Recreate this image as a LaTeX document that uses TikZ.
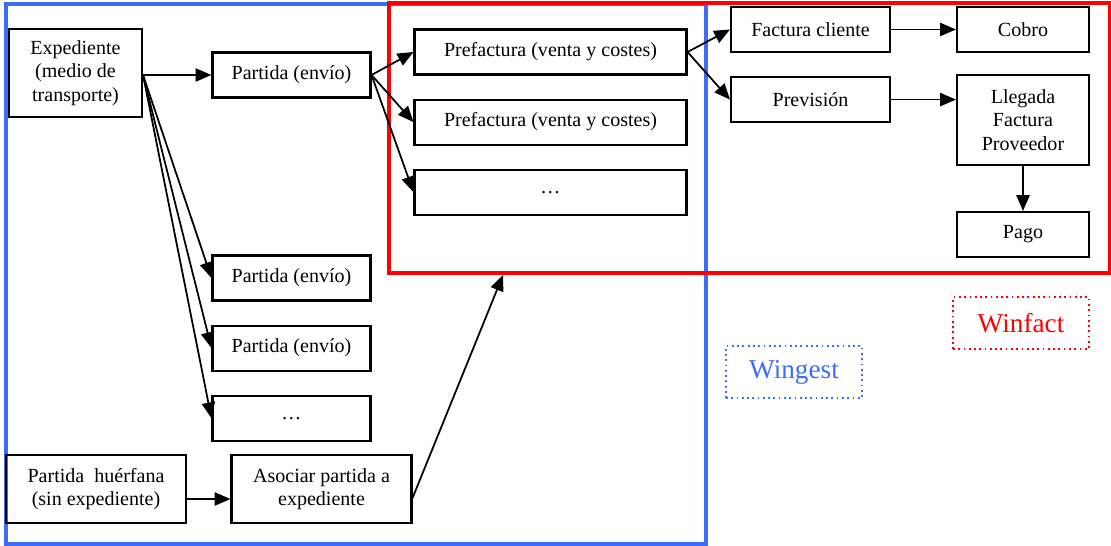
\documentclass[tikz,border=0pt]{standalone}
\usepackage{fontspec}
\setmainfont{Liberation Serif}
\usetikzlibrary{positioning,arrows.meta}
\definecolor{wgblue}{RGB}{60,108,248}
\definecolor{wfred}{RGB}{255,0,0}

\begin{document}
\begin{tikzpicture}[x=0.02cm,y=-0.02cm,node distance=0.46cm,
  >={Triangle[length=9pt,width=7.5pt]},font=\fontsize{11.4pt}{13.25pt}\selectfont]
  \tikzstyle{box}=[draw,line width=1.2pt,align=center,inner sep=2pt]
  \tikzstyle{partida}=[box,minimum width=3.16cm,minimum height=0.9cm]
  \tikzstyle{prefactura}=[box,minimum width=5.44cm,minimum height=0.9cm]
  \tikzstyle{cliente}=[box,minimum width=3.18cm,minimum height=0.9cm]
  \tikzstyle{cobro}=[box,minimum width=2.64cm,minimum height=0.9cm]
  \tikzstyle{orphan}=[box,minimum width=3.6cm,minimum height=1.36cm]
  \tikzstyle{legend}=[draw,dotted,line width=1pt,minimum width=2.72cm,minimum height=1.04cm,
    font=\fontsize{15.5pt}{18pt}\selectfont]
  \useasboundingbox (0,0) rectangle (1111,546);

  % frames
  \draw[wgblue,line width=1.8pt] (6,4) rectangle (706,544);
  \draw[wfred,line width=1.8pt] (389,3) rectangle (1110,273);

  \node[box,minimum width=2.66cm,minimum height=1.76cm] (exp) at (75.5,73)
    {Expediente\\(medio de\\transporte)};
  \node[partida] (par1) at (291.5,75)   {Partida (envío)};
  \node[partida] (par2) at (291.5,278)  {Partida (envío)};
  \node[partida] (par3) [below=of par2] {Partida (envío)};
  \node[partida] (par4) [below=of par3] {\dots};

  \node[prefactura] (pre1) at (550.5,52)  {Prefactura (venta y costes)};
  \node[prefactura] (pre2) [below=of pre1] {Prefactura (venta y costes)};
  \node[prefactura] (pre3) [below=of pre2] {\dots};

  \node[cliente] (fac)  at (810.5,29.5)   {Factura cliente};
  \node[cliente] (prev) [below=of fac]    {Previsión};
  \node[cobro]   (cob)  at (1023,29.5)    {Cobro};
  \node[cobro,minimum height=1.8cm] (lleg) at (1023,120) {Llegada\\Factura\\Proveedor};
  \node[cobro]   (pago) [below=0.9cm of lleg] {Pago};

  \node[orphan] (huer) at (96,489)    {Partida~ huérfana\\(sin expediente)};
  \node[orphan] (asoc) at (321.5,489) {Asociar partida a\\expediente};

  \node[legend,wgblue] (wingest) at (794,372)  {Wingest};
  \node[legend,wfred]  (winfact) at (1021,323) {Winfact};
  \coordinate (expOut) at (exp.east |- par1.west);
  \coordinate (winfactIn) at (503,275);

  \path[->,line width=1pt]
  (expOut)    edge (par1.west)
              edge (par2.west)
              edge (par3.west)
              edge (par4.west)
  (par1.east) edge (pre1.west)
              edge (pre2.west)
              edge (pre3.west)
  (pre1.east) edge (fac.west)
              edge (prev.west)
  (fac)       edge (cob)
  (prev)      edge (prev.east -| lleg.west)
  (lleg)      edge (pago)
  ([yshift=-0.2cm]huer.east) edge ([yshift=-0.2cm]asoc.west)
  ([yshift=-0.18cm]asoc.east) edge (winfactIn);
\end{tikzpicture}
\end{document}
